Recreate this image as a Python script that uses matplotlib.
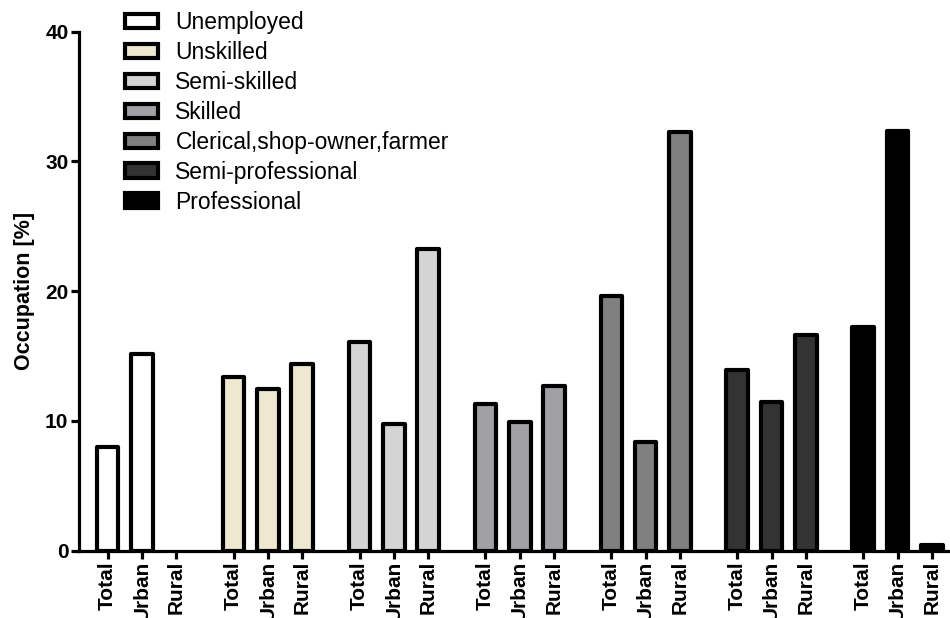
import numpy as np
import matplotlib
matplotlib.use("Agg")
import matplotlib.pyplot as plt

plt.rcParams['font.family'] = ['Liberation Sans', 'DejaVu Sans']

categories = ['Unemployed', 'Unskilled', 'Semi-skilled', 'Skilled',
              'Clerical,shop-owner,farmer', 'Semi-professional', 'Professional']
subgroups = ['Total', 'Urban', 'Rural']
total = [7.95, 13.35, 16.05, 11.3, 19.65, 13.95, 17.25]
urban = [15.15, 12.45, 9.75, 9.95, 8.35, 11.45, 32.35]
rural = [0.0, 14.35, 23.25, 12.65, 32.25, 16.65, 0.47]
colors = ['#ffffff', '#ede8cf', '#d4d4d4', '#a1a0a5', '#808080', '#333333', '#000000']

group_step = 3.67
bar_w = 0.63

fig = plt.figure(figsize=(9.5, 6.18), dpi=100)
ax = fig.add_axes([0.083, 0.109, 0.917, 0.840])

tick_pos = []
tick_lab = []
for g, cat in enumerate(categories):
    vals = np.array([total[g], urban[g], rural[g]])
    # an empty category draws no bar at all
    vals = np.where(vals > 0, vals, np.nan)
    xs = g * group_step + np.arange(3)
    ax.bar(xs, vals, width=bar_w, color=colors[g], edgecolor='black',
           linewidth=3.0, joinstyle='round', label=cat, zorder=3)
    tick_pos.extend(xs)
    tick_lab.extend(subgroups)

ax.set_xlim(-0.84, 6 * group_step + 2.53)
ax.set_ylim(0, 40)
ax.set_yticks([0, 10, 20, 30, 40])
ax.set_xticks(tick_pos)
ax.set_xticklabels(tick_lab, rotation=90, fontsize=15, fontweight='bold')
for t in ax.get_yticklabels():
    t.set_fontweight('bold')
    t.set_fontsize(15)
ax.set_ylabel('Occupation [%]', fontsize=15.5, fontweight='bold')
ax.yaxis.set_label_coords(-0.05, 0.5)

for s in ['top', 'right']:
    ax.spines[s].set_visible(False)
for s in ['left', 'bottom']:
    ax.spines[s].set_linewidth(2.3)
ax.tick_params(axis='both', direction='out', length=5.5, width=2.3, pad=2)

leg = ax.legend(loc='upper left', bbox_to_anchor=(0.053, 1.039), frameon=False,
                fontsize=16.5, handlelength=1.45, handleheight=0.58,
                labelspacing=0.3, handletextpad=0.75,
                borderpad=0, borderaxespad=0)

fig.savefig('out.png', dpi=100)
